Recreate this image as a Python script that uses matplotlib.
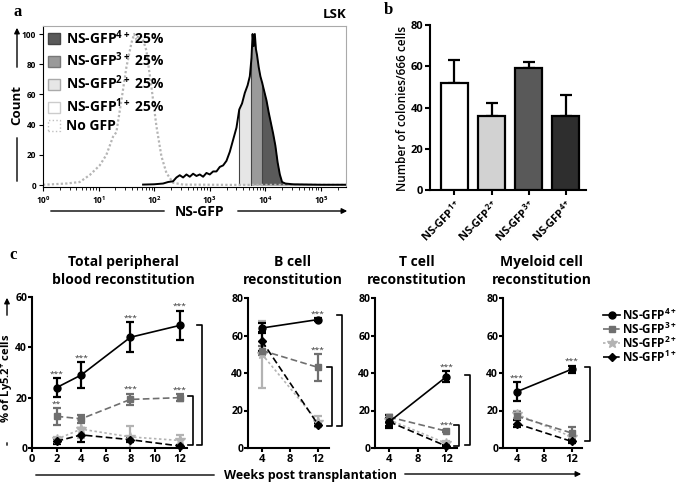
import numpy as np
import matplotlib
matplotlib.use('Agg')
import matplotlib.pyplot as plt
import matplotlib.transforms as mtransforms
from matplotlib.lines import Line2D
from matplotlib.patches import Patch, FancyArrowPatch

plt.rcParams['font.family'] = ['Open Sans', 'DejaVu Sans']
plt.rcParams['font.weight'] = 'bold'
plt.rcParams['axes.labelweight'] = 'bold'
plt.rcParams['mathtext.fontset'] = 'custom'
plt.rcParams['mathtext.rm'] = 'Open Sans'
plt.rcParams['mathtext.bf'] = 'Open Sans:bold'
plt.rcParams['mathtext.it'] = 'Open Sans:italic'

W, H = 685, 484

# ---- panel a: flow histogram (log10 GFP, count) ----
nogfp_log = [0.0, 0.12, 0.42, 0.66, 0.84, 1.02, 1.14, 1.26, 1.32, 1.41, 1.5, 1.59, 1.64,
             1.68, 1.72, 1.77, 1.81, 1.86, 1.95, 2.04, 2.13, 2.22, 2.34, 2.52, 3.4, 5.45]
nogfp_cnt = [0.2, 0.4, 1, 2, 6.6, 13, 20, 32, 35, 56, 78, 94, 100, 96, 99, 98, 95, 89,
             65, 39, 19, 8, 1.5, 0.3, 0.1, 0.1]
gfp_log = [1.8, 2.0, 2.16, 2.25, 2.34, 2.4, 2.46, 2.52, 2.58, 2.64, 2.7, 2.76, 2.82, 2.88,
           2.94, 3.0, 3.06, 3.12, 3.18, 3.24, 3.3, 3.36, 3.42, 3.48, 3.53, 3.58, 3.63, 3.68,
           3.72, 3.75, 3.77, 3.79, 3.81, 3.83, 3.85, 3.88, 3.91, 3.94, 3.98, 4.02, 4.06, 4.1,
           4.14, 4.18, 4.22, 4.26, 4.3, 4.36, 4.5, 5.0, 5.45]
gfp_cnt = [0.3, 0.5, 1, 2, 2.5, 5, 6.5, 5, 7, 5.5, 7.5, 6, 7, 5.5, 8, 7, 9, 9, 12, 13, 16,
           22, 30, 38, 50, 54, 61, 66, 72, 84, 100, 92, 100, 90, 86, 78, 72, 68, 62, 56, 48,
           41, 34, 26, 15, 7, 2, 1, 0.5, 0.2, 0.2]
gate_bounds = [3.53, 3.75, 3.94]
gate_colors = ['white', '#e6e6e6', '#9a9a9a', '#5a5a5a']
a_labels = [r'NS-GFP$^{\mathbf{4+}}$ 25%', r'NS-GFP$^{\mathbf{3+}}$ 25%',
            r'NS-GFP$^{\mathbf{2+}}$ 25%', r'NS-GFP$^{\mathbf{1+}}$ 25%', 'No GFP']

# ---- panel b: colonies ----
b_labels = [r'NS-GFP$^{\mathbf{1+}}$', r'NS-GFP$^{\mathbf{2+}}$',
            r'NS-GFP$^{\mathbf{3+}}$', r'NS-GFP$^{\mathbf{4+}}$']
b_means = [52, 36, 59, 36]
b_err = [11, 6, 3, 10]
b_colors = ['white', '#d2d2d2', '#595959', '#2e2e2e']

# ---- panel c: reconstitution (% of Ly5.2+ cells) ----
series_names = ['4+', '3+', '2+', '1+']
c_labels = [r'NS-GFP$^{\mathbf{4+}}$', r'NS-GFP$^{\mathbf{3+}}$',
            r'NS-GFP$^{\mathbf{2+}}$', r'NS-GFP$^{\mathbf{1+}}$']

tot_weeks = [2, 4, 8, 12]
tot_mean = {'4+': [24, 29, 44, 48.7], '3+': [12.6, 11.6, 19.3, 20],
            '2+': [3.5, 7.5, 4.4, 3], '1+': [2.7, 5.2, 3.3, 0.8]}
tot_err = {'4+': [3.8, 5, 6, 5.8], '3+': [3.3, 1.7, 2.3, 1.3],
           '2+': [1, 3.5, 4.5, 2], '1+': [1, 2.7, 1, 0.5]}
tot_stars = [(0, '4+', '***'), (0, '3+', '**'), (1, '4+', '***'), (2, '4+', '***'),
             (2, '3+', '***'), (3, '4+', '***'), (3, '3+', '***')]

b_weeks = [4, 12]
bc_mean = {'4+': [64, 68.5], '3+': [52, 43], '2+': [50, 14], '1+': [57, 12.5]}
bc_err = {'4+': [2.5, 0.8], '3+': [2.5, 7], '2+': [18, 3], '1+': [5, 1]}
bc_stars = [(1, '4+', '***'), (1, '3+', '***')]

t_weeks = [4, 12]
tc_mean = {'4+': [14, 38], '3+': [16.5, 9], '2+': [15, 2.5], '1+': [14, 1]}
tc_err = {'4+': [2, 3], '3+': [1, 0.7], '2+': [1, 1], '1+': [3.5, 0.5]}
tc_stars = [(1, '4+', '***'), (1, '3+', '***')]

m_weeks = [4, 12]
mc_mean = {'4+': [30, 42], '3+': [17, 8], '2+': [18, 6], '1+': [13, 3.5]}
mc_err = {'4+': [5, 1.8], '3+': [2, 3], '2+': [2, 1], '1+': [2, 0.7]}
mc_stars = [(0, '4+', '***'), (1, '4+', '***')]

styles = {'4+': dict(color='black', ls='-', marker='o', ms=5),
          '3+': dict(color='#6f6f6f', ls=(0, (4, 2)), marker='s', ms=5),
          '2+': dict(color='#b3b3b3', ls=(0, (1.5, 1.5)), marker='*', ms=7),
          '1+': dict(color='black', ls=(0, (4, 2)), marker='D', ms=4)}


def rect(x0, y0, x1, y1):
    return [x0 / W, (H - y1) / H, (x1 - x0) / W, (y1 - y0) / H]


def fy(y):
    return H - y


fig = plt.figure(figsize=(6.85, 4.84), dpi=100)


def hline_arrow(p0, p1, arrow=True):
    fig.add_artist(FancyArrowPatch(
        (p0[0], fy(p0[1])), (p1[0], fy(p1[1])), transform=None,
        arrowstyle='-|>' if arrow else '-', mutation_scale=8, lw=1.0, color='black'))


# ================= panel a =================
axa = fig.add_axes(rect(43, 26, 346, 187))
gl = np.array(gfp_log)
gc = np.array(gfp_cnt)
edges = [gfp_log[0]] + gate_bounds + [gfp_log[-1]]
for lo, hi, col in zip(edges[:-1], edges[1:], gate_colors):
    xs = np.concatenate([[lo], gl[(gl > lo) & (gl < hi)], [hi]])
    ys = np.interp(xs, gl, gc)
    axa.fill_between(10 ** xs, 0, ys, color=col, lw=0)
for g in gate_bounds:
    axa.plot([10 ** g, 10 ** g], [0, np.interp(g, gl, gc)], color='#444444', lw=0.8)
axa.plot(10 ** np.array(nogfp_log), nogfp_cnt, color='#b5b5b5', ls=(0, (1, 1)), lw=1.6)
axa.plot(10 ** gl, gc, color='black', lw=1.4)
axa.set_xscale('log')
axa.set_xlim(1, 10 ** 5.45)
axa.set_ylim(-1.3, 105.3)
axa.set_yticks([0, 20, 40, 60, 80, 100])
axa.tick_params(labelsize=6, length=3, width=0.8, direction='out', pad=2)
axa.tick_params(which='minor', length=2, width=0.6)
for s in ['top', 'right']:
    axa.spines[s].set_color('#aaaaaa')
    axa.spines[s].set_linewidth(0.8)
a_handles = [Patch(facecolor='#5a5a5a', edgecolor='#444444'),
             Patch(facecolor='#9a9a9a', edgecolor='#777777'),
             Patch(facecolor='#e6e6e6', edgecolor='#aaaaaa'),
             Patch(facecolor='white', edgecolor='#cccccc'),
             Patch(facecolor='white', edgecolor='#c0c0c0', ls=':')]
axa.legend(a_handles, a_labels, loc='upper left', bbox_to_anchor=(48 / W, fy(28) / H),
           bbox_transform=fig.transFigure, frameon=False, handlelength=0.85,
           handleheight=0.85, handletextpad=0.45, labelspacing=0.3, borderpad=0,
           borderaxespad=0, prop={'weight': 'bold', 'size': 10})

fig.text(17 / W, fy(105) / H, 'Count', rotation=90, ha='center', va='center', fontsize=9.5)
hline_arrow((17, 70), (17, 25))
hline_arrow((17, 135), (17, 184), arrow=False)
fig.text(200 / W, fy(212) / H, 'NS-GFP', ha='center', va='center', fontsize=10)
hline_arrow((48, 211), (167, 211), arrow=False)
hline_arrow((235, 211), (350, 211))
fig.text(346 / W, fy(15) / H, 'LSK', ha='right', va='center', fontsize=9.5)

# ================= panel b =================
axb = fig.add_axes(rect(430, 25, 586, 190))
xb = np.arange(len(b_labels))
axb.errorbar(xb, b_means, yerr=[np.zeros(len(b_err)), b_err], fmt='none', ecolor='black',
             elinewidth=1.6, capsize=4, capthick=1.6, zorder=2)
axb.bar(xb, b_means, width=0.73, color=b_colors, edgecolor='black', lw=1.6, zorder=3)
axb.set_xlim(-0.66, 3.55)
axb.set_ylim(0, 80)
axb.set_yticks([0, 20, 40, 60, 80])
axb.set_xticks(xb)
axb.set_xticklabels(b_labels, rotation=45, ha='right', rotation_mode='anchor')
axb.tick_params(labelsize=8, length=3.5, width=1.5, pad=1.5)
axb.tick_params(axis='x', labelsize=8, pad=2)
for s in ['top', 'right']:
    axb.spines[s].set_visible(False)
for s in ['left', 'bottom']:
    axb.spines[s].set_linewidth(1.5)
fig.text(402 / W, fy(108) / H, 'Number of colonies/666 cells', rotation=90, ha='center',
         va='center', fontsize=8.5, fontweight='semibold')

# ================= panel c =================
panels = [
    (rect(32, 297, 187, 448), tot_weeks, tot_mean, tot_err, tot_stars, (0, 12.6), 60,
     [0, 2, 4, 6, 8, 10, 12], [(1.097, 49, 1.2), (1.039, 20.7, 1.2)],
     'Total peripheral\nblood reconstitution', 123),
    (rect(248, 298, 328.5, 448), b_weeks, bc_mean, bc_err, bc_stars, (2, 13.5), 80,
     [4, 8, 12], [(1.17, 71, 12), (1.045, 43, 12)], 'B cell\nreconstitution', 293),
    (rect(375, 298, 457, 448), t_weeks, tc_mean, tc_err, tc_stars, (2, 13.5), 80,
     [4, 8, 12], [(1.16, 39, 1.5), (1.025, 12.5, 1.0)], 'T cell\nreconstitution', 417),
    (rect(503, 298, 582, 448), m_weeks, mc_mean, mc_err, mc_stars, (2, 13.5), 80,
     [4, 8, 12], [(1.10, 43, 3.5)], 'Myeloid cell\nreconstitution', 542),
]
draw_order = ['2+', '3+', '1+', '4+']
for r, weeks, means, errs, stars, xlim, ymax, xt, brackets, title, tx in panels:
    ax = fig.add_axes(r)
    for key in draw_order:
        st = styles[key]
        ax.errorbar(weeks, means[key], yerr=errs[key], color=st['color'], ls=st['ls'],
                    marker=st['marker'], ms=st['ms'], lw=1.2, elinewidth=1.6, capsize=3,
                    capthick=1.6, clip_on=False)
    for wi, key, mark in stars:
        ax.annotate(mark, (weeks[wi], means[key][wi] + errs[key][wi]), xytext=(0, 0.5),
                    textcoords='offset points', ha='center', va='bottom', fontsize=6,
                    fontweight='normal', color='#333333')
    tr = mtransforms.blended_transform_factory(ax.transAxes, ax.transData)
    arm = 5.0 / (r[2] * W)
    for bx, top, bot in brackets:
        ax.plot([bx - arm, bx, bx, bx - arm], [top, top, bot, bot], color='black', lw=1.2,
                transform=tr, clip_on=False)
    ax.set_xlim(*xlim)
    ax.set_ylim(0, ymax)
    ax.set_xticks(xt)
    ax.set_yticks(np.arange(0, ymax + 1, 20))
    ax.tick_params(labelsize=8, length=3, width=1.5, pad=1)
    ax.tick_params(axis='y', labelsize=7.5, pad=0.5)
    for s in ['top', 'right']:
        ax.spines[s].set_visible(False)
    for s in ['left', 'bottom']:
        ax.spines[s].set_linewidth(1.5)
    fig.text(tx / W, fy(271) / H, title, ha='center', va='center', fontsize=10,
             linespacing=1.45)

# legend of panel c, drawn row by row
leg_rows = [315, 329, 343, 357]
for k, lab, yrow in zip(series_names, c_labels, leg_rows):
    st = styles[k]
    fig.add_artist(Line2D([603 / W, 620 / W], [fy(yrow) / H] * 2, color=st['color'],
                          ls=st['ls'], lw=1.2, transform=fig.transFigure))
    fig.add_artist(Line2D([611.5 / W], [fy(yrow) / H], color=st['color'], ls='none',
                          marker=st['marker'], ms=st['ms'], transform=fig.transFigure))
    fig.text(622 / W, fy(yrow) / H, lab, ha='left', va='center', fontsize=8.5)

fig.text(7 / W, fy(378) / H, r'% of Ly5.2$^{\mathbf{+}}$ cells', rotation=90, ha='center',
         va='center', fontsize=8)
hline_arrow((7, 318), (7, 295))
hline_arrow((7, 440), (7, 448), arrow=False)
fig.text(311 / W, fy(476) / H, 'Weeks post transplantation', ha='center', va='center',
         fontsize=9)
hline_arrow((33, 475), (217, 475), arrow=False)
hline_arrow((402, 474), (584, 474))

# panel letters
fig.text(18 / W, fy(12) / H, 'a', family='Liberation Serif', fontsize=12, ha='center', va='center')
fig.text(388 / W, fy(10) / H, 'b', family='Liberation Serif', fontsize=12, ha='center', va='center')
fig.text(13 / W, fy(255) / H, 'c', family='Liberation Serif', fontsize=12, ha='center', va='center')

fig.savefig('out.png', dpi=100)
